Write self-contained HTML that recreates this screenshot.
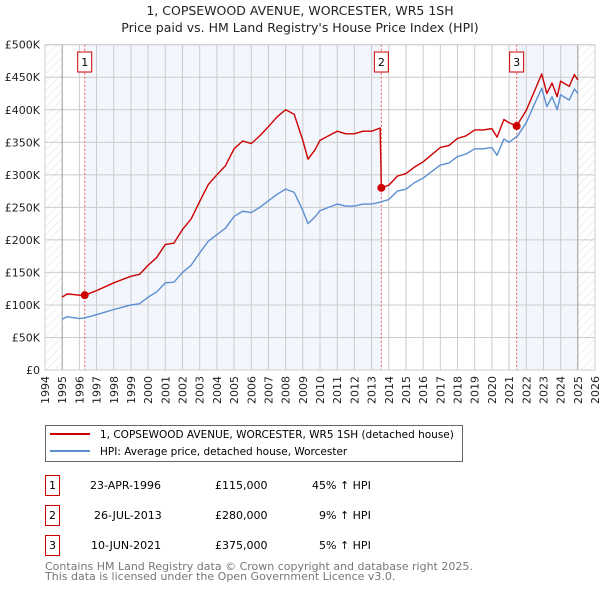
<!DOCTYPE html>
<html><head><meta charset="utf-8"><style>
body{margin:0;background:#fff;font-family:"Liberation Sans","DejaVu Sans",sans-serif;}
svg text{font-family:"DejaVu Sans","Liberation Sans",sans-serif;}
</style></head><body>
<svg id="chart" width="600" height="590" viewBox="0 0 600 590" xmlns="http://www.w3.org/2000/svg">
<defs>
<pattern id="hatch" patternUnits="userSpaceOnUse" width="6" height="6" patternTransform="rotate(45)">
<line x1="0" y1="0" x2="0" y2="6" stroke="#d8d8d8" stroke-width="0.8"/>
</pattern>
</defs>
<text x="300" y="15" font-size="12.5" text-anchor="middle" fill="#222">1, COPSEWOOD AVENUE, WORCESTER, WR5 1SH</text>
<text x="300" y="32" font-size="12.5" text-anchor="middle" fill="#222">Price paid vs. HM Land Registry's House Price Index (HPI)</text>
<g id="plot"></g>
<g>
<rect x="45.5" y="425.5" width="417" height="36" fill="#fff" stroke="#666"/>
<line x1="50" y1="434" x2="90" y2="434" stroke="#cc0000" stroke-width="2"/>
<text x="100" y="438" font-size="10.5" fill="#000">1, COPSEWOOD AVENUE, WORCESTER, WR5 1SH (detached house)</text>
<line x1="50" y1="451" x2="90" y2="451" stroke="#5b8fd0" stroke-width="2"/>
<text x="100" y="455" font-size="10.5" fill="#000">HPI: Average price, detached house, Worcester</text>
</g>
<g font-size="11" fill="#000">
<rect x="45.5" y="475.5" width="14" height="20" fill="#fff" stroke="#cc0000"/><text x="52.5" y="489" text-anchor="middle">1</text>
<text x="90" y="489">23-APR-1996</text><text x="215" y="489">£115,000</text><text x="312" y="489">45% ↑ HPI</text>
<rect x="45.5" y="505.5" width="14" height="20" fill="#fff" stroke="#cc0000"/><text x="52.5" y="519" text-anchor="middle">2</text>
<text x="94" y="519">26-JUL-2013</text><text x="215" y="519">£280,000</text><text x="319" y="519">9% ↑ HPI</text>
<rect x="45.5" y="535.5" width="14" height="20" fill="#fff" stroke="#cc0000"/><text x="52.5" y="549" text-anchor="middle">3</text>
<text x="91" y="549">10-JUN-2021</text><text x="215" y="549">£375,000</text><text x="319" y="549">5% ↑ HPI</text>
</g>
<text x="45" y="570" font-size="11" fill="#777">Contains HM Land Registry data © Crown copyright and database right 2025.</text>
<text x="45" y="580" font-size="11" fill="#777">This data is licensed under the Open Government Licence v3.0.</text>
</svg>
<script>
const hpiDates=[1995,1995.3,1996,1996.3,1997,1998,1999,1999.5,2000,2000.5,2001,2001.5,2002,2002.5,2003,2003.5,2004,2004.5,2005,2005.5,2006,2006.5,2007,2007.5,2008,2008.5,2009,2009.3,2009.7,2010,2010.5,2011,2011.5,2012,2012.5,2013,2013.5,2014,2014.5,2015,2015.5,2016,2016.5,2017,2017.5,2018,2018.5,2019,2019.5,2020,2020.3,2020.7,2021,2021.5,2022,2022.5,2022.9,2023.2,2023.5,2023.8,2024,2024.5,2024.8,2025];
const hpiValues=[78,82,79,80,85,93,100,102,112,120,134,135,150,161,180,198,208,218,236,244,242,250,260,270,278,273,245,225,235,245,250,255,252,252,255,255,258,262,275,278,288,295,305,315,318,328,332,340,340,342,330,355,350,360,380,410,433,405,420,400,423,415,432,425];
const priceDates=[1995,1995.3,1996,1996.31,1997,1998,1999,1999.5,2000,2000.5,2001,2001.5,2002,2002.5,2003,2003.5,2004,2004.5,2005,2005.5,2006,2006.5,2007,2007.5,2008,2008.5,2009,2009.3,2009.7,2010,2010.5,2011,2011.5,2012,2012.5,2013,2013.5,2013.57,2014,2014.5,2015,2015.5,2016,2016.5,2017,2017.5,2018,2018.5,2019,2019.5,2020,2020.3,2020.7,2021,2021.44,2022,2022.5,2022.9,2023.2,2023.5,2023.8,2024,2024.5,2024.8,2025];
const priceValues=[112,117,115,115,122,134,144,147,161,173,193,195,216,232,259,285,300,314,340,352,348,360,374,389,400,393,353,324,338,353,360,367,363,363,367,367,372,280,284,298,302,312,320,331,342,345,356,360,369,369,371,358,385,380,375,399,430,455,425,441,420,444,436,454,446];
const saleDates=[1996.31,2013.57,2021.44];
const saleValues=[115,280,375];
const saleLabels=["1","2","3"];
const yTicks=[0,50,100,150,200,250,300,350,400,450,500];
const yTickLabels=["£0","£50K","£100K","£150K","£200K","£250K","£300K","£350K","£400K","£450K","£500K"];
const xYears=[1994,1995,1996,1997,1998,1999,2000,2001,2002,2003,2004,2005,2006,2007,2008,2009,2010,2011,2012,2013,2014,2015,2016,2017,2018,2019,2020,2021,2022,2023,2024,2025,2026];

const X0=45,X1=595,Y0=370,Y1=44.7;
const xs=t=>X0+(t-1994)/(2026-1994)*(X1-X0);
const ys=v=>Y0-v/500*(Y0-Y1);
const NS="http://www.w3.org/2000/svg";
const plot=document.getElementById('plot');
function mk(tag,attrs,parent){const e=document.createElementNS(NS,tag);for(const k in attrs)e.setAttribute(k,attrs[k]);(parent||plot).appendChild(e);return e;}

let r=mk('rect',{x:xs(1994),y:Y1,width:xs(1995)-xs(1994),height:Y0-Y1,fill:'url(#hatch)'});


r=mk('rect',{x:xs(2025),y:Y1,width:xs(2026)-xs(2025),height:Y0-Y1,fill:'url(#hatch)'});


r=mk('rect',{x:xs(saleDates[0]),y:Y1,width:xs(saleDates[1])-xs(saleDates[0]),height:Y0-Y1,fill:'#f3f6fd'});


r=mk('rect',{x:xs(saleDates[2]),y:Y1,width:xs(2025)-xs(saleDates[2]),height:Y0-Y1,fill:'#f3f6fd'});



yTicks.forEach((v,i)=>{
 const l=mk('line',{x1:X0,x2:X1,y1:ys(v),y2:ys(v),stroke:'#ccc','stroke-width':1});
 
 
 const t=mk('text',{x:40,y:ys(v)+4,'font-size':11,'text-anchor':'end',fill:'#222'});
 t.textContent=yTickLabels[i];
 
 
});
xYears.forEach(yr=>{
 const l=mk('line',{x1:xs(yr),x2:xs(yr),y1:Y1,y2:Y0,stroke:(yr==1995||yr==2025)?'#999':'#ccc','stroke-width':1});
 
 
 const t=mk('text',{x:0,y:0,'font-size':11,'text-anchor':'end',fill:'#222',transform:`translate(${xs(yr)+4},376) rotate(-90)`});
 t.textContent=yr;
 
 
});
saleDates.forEach((d,i)=>{
 const l=mk('line',{x1:xs(d),x2:xs(d),y1:Y1,y2:Y0,stroke:'#e06060','stroke-width':1,'stroke-dasharray':'2,2'});
 
 
 const b=mk('rect',{x:xs(d)-7,y:52,width:14,height:20,fill:'#fff',stroke:'#cc0000'});
 
 
 const t=mk('text',{x:xs(d),y:66,'font-size':11,'text-anchor':'middle',fill:'#000'});
 t.textContent=saleLabels[i];
 
 
});
let p=mk('polyline',{points:hpiDates.map((d,i)=>xs(d)+','+ys(hpiValues[i])).join(' '),fill:'none',stroke:'#5b8fd0','stroke-width':1.4,'stroke-linejoin':'round'});


p=mk('polyline',{points:priceDates.map((d,i)=>xs(d)+','+ys(priceValues[i])).join(' '),fill:'none',stroke:'#cc0000','stroke-width':1.4,'stroke-linejoin':'round'});


saleDates.forEach((d,i)=>{
 const c=mk('circle',{cx:xs(d),cy:ys(saleValues[i]),r:4,fill:'#cc0000'});
 
 
});
const fr=mk('rect',{x:X0,y:Y1,width:X1-X0,height:Y0-Y1,fill:'none',stroke:'#ccc'});


</script>
</body></html>
